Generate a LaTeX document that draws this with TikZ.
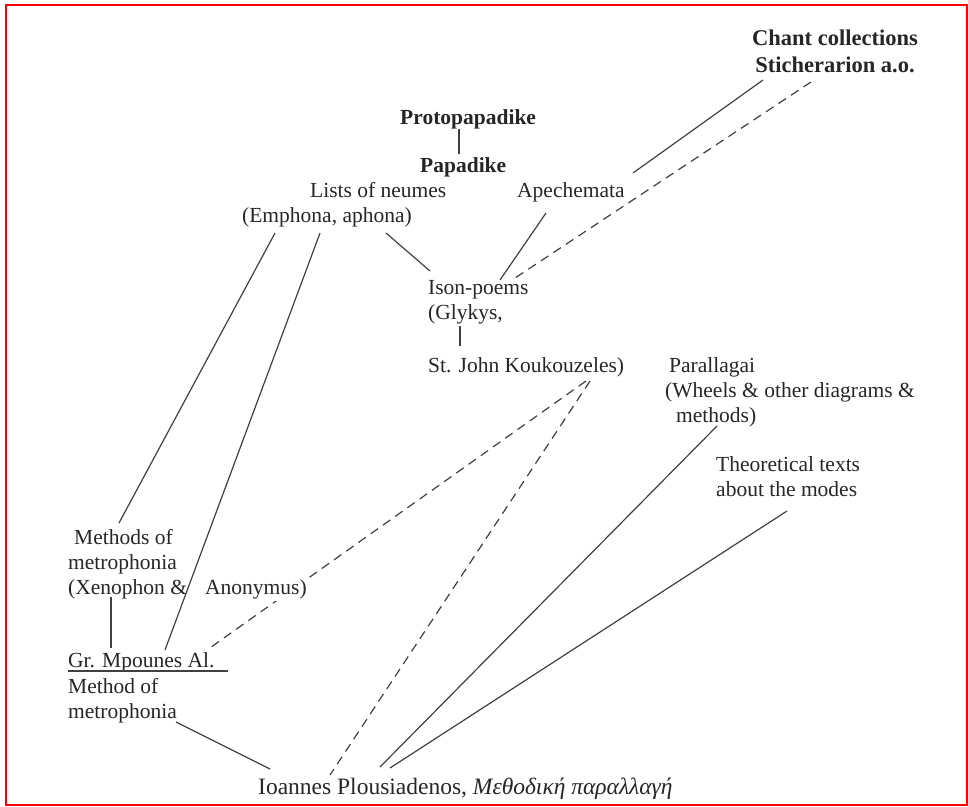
\documentclass[tikz,border=0pt]{standalone}
\usepackage{fontspec}
\setmainfont{Liberation Serif}
\usetikzlibrary{positioning}

\begin{document}
\begin{tikzpicture}[x=1pt, y=-1pt,
    lbl/.style={inner sep=0pt, anchor=base west, align=left, text=black!85,
      font=\fontsize{21.5}{25}\selectfont},
    ttl/.style={lbl, font=\fontsize{21.5}{25}\selectfont\bfseries},
    link/.style={draw=black!75, line width=1.2pt},
    maybe/.style={link, dash pattern=on 9pt off 6pt}]
    \useasboundingbox (0,0) rectangle (968,806);
    \draw[red, line width=2pt] (6,5) rectangle (967,804.5);

    % sources (a node sits on the baseline of its last line)
    \node[ttl, align=center, font=\fontsize{22.5}{27}\selectfont\bfseries] (chant) at (752,72) {Chant collections\\Sticherarion a.o.};
    \node[ttl] (proto) at (400,124) {Protopapadike};
    \node[ttl] (papa) at (420,172) {Papadike};
    \node[lbl] (lists) at (242,222) {\hspace*{68pt}Lists of neumes\\(Emphona, aphona)};
    \node[lbl] (apech) at (517,197) {Apechemata};
    \node[lbl] (ison) at (428,319) {Ison-poems\\(Glykys,};
    \node[lbl] (kouk) at (428,372) {St. John Koukouzeles)};
    \node[lbl] (para) at (665,422) {\hspace*{4pt}Parallagai\\(Wheels \& other diagrams \&\\\hspace*{11pt}methods)};
    \node[lbl] (theo) at (716,496) {Theoretical texts\\about the modes};
    \node[lbl] (meth) at (68,594) {\hspace*{6pt}Methods of\\metrophonia\\(Xenophon \&};
    \node[lbl] (mpounes) at (68,667) {Gr. Mpounes Al.};
    \node[lbl] (methof) at (68,718) {Method of\\metrophonia};
    \node[lbl, font=\fontsize{23.5}{27}\selectfont] (ioannes) at (258,794) {Ioannes Plousiadenos, \textit{Μεθοδική παραλλαγή}};

    \path[link]
    ([shift={(39,0)}]papa.north west |- proto.south) edge ([shift={(39,-3)}]papa.north west)
    ([shift={(11,8)}]chant.base west) edge ([shift={(116,-24)}]apech.base west)
    ([shift={(29,16)}]apech.base west) edge ([shift={(72,-39)}]ison.base west)
    ([shift={(144,11)}]lists.base west) edge ([shift={(2,-48)}]ison.base west)
    ([shift={(33,11)}]lists.base west) edge ([shift={(51,-71)}]meth.base west)
    ([shift={(78,11)}]lists.base west) edge ([shift={(97,-17)}]mpounes.base west)
    ([shift={(32,7)}]ison.base west) edge ([shift={(32,-26)}]kouk.base west)
    ([shift={(43,3)}]meth.base west) edge ([shift={(43,-19)}]mpounes.base west)
    ([shift={(0,4)}]mpounes.base west) edge ([shift={(160,4)}]mpounes.base west)
    ([shift={(108,4)}]methof.base west) edge ([shift={(12,-25)}]ioannes.base west)
    ([shift={(52,4)}]para.base west) edge ([shift={(122,-27)}]ioannes.base west)
    ([shift={(71,15)}]theo.base west) edge ([shift={(132,-26)}]ioannes.base west);

    \path[maybe]
    ([shift={(59,10)}]chant.base west) edge ([shift={(84,-39)}]ison.base west)
    ([shift={(158,9)}]kouk.base west) edge ([shift={(139,-17)}]mpounes.base west)
    ([shift={(162,9)}]kouk.base west) edge ([shift={(72,-19)}]ioannes.base west);

    % drawn last, it hides the dashes behind it
    \node[lbl, fill=white, inner sep=2pt] (anon) at (203,594) {Anonymus)};
\end{tikzpicture}
\end{document}
